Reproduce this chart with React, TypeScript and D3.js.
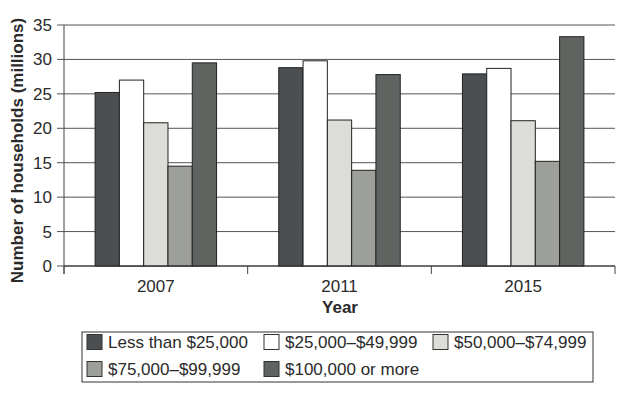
import React from "react";
import * as d3 from "d3";

const years = ["2007", "2011", "2015"];
const seriesNames = [
  "Less than $25,000",
  "$25,000–$49,999",
  "$50,000–$74,999",
  "$75,000–$99,999",
  "$100,000 or more",
];
const less25k = [25.2, 28.8, 27.9];
const k25to50 = [27.0, 29.8, 28.7];
const k50to75 = [20.8, 21.2, 21.1];
const k75to100 = [14.5, 13.9, 15.2];
const over100k = [29.5, 27.8, 33.3];
const yTicks = [0, 5, 10, 15, 20, 25, 30, 35];

const seriesValues = [less25k, k25to50, k50to75, k75to100, over100k];
const colors = ["#4b4f51", "#ffffff", "#dcdcd8", "#9d9f9b", "#5f6461"];

export default function App() {
  const W = 626, H = 398;
  const left = 64, right = 615, top = 25, bottom = 266;
  const x0 = d3.scaleBand<string>().domain(years).range([left, right]).paddingInner(0).paddingOuter(0);
  const x1 = d3.scaleBand<number>().domain(d3.range(5)).range([0, x0.bandwidth()]).paddingOuter(1.28);
  const y = d3.scaleLinear().domain([0, 35]).range([bottom, top]);
  const font = "'Liberation Sans', Arial, sans-serif";
  const textColor = "#2a2a2a";

  const legendItems = [
    { i: 0, x: 87, y: 342 },
    { i: 1, x: 264, y: 342 },
    { i: 2, x: 433, y: 342 },
    { i: 3, x: 87, y: 369 },
    { i: 4, x: 264, y: 369 },
  ];

  return (
    <svg width={W} height={H} style={{ position: "absolute", left: 0, top: 0, background: "#fff" }} fontFamily={font}>
      {yTicks.map((t) => (
        <g key={t}>
          <line x1={left - 7} x2={right} y1={y(t)} y2={y(t)} stroke="#555" strokeWidth={1} />
          <text x={left - 12} y={y(t)} dy="0.35em" textAnchor="end" fontSize={17} fill={textColor}>{t}</text>
        </g>
      ))}
      <line x1={left} x2={left} y1={top} y2={bottom + 8} stroke="#444" strokeWidth={1} />
      {years.map((yr, gi) => (
        <g key={yr} transform={`translate(${x0(yr)},0)`}>
          {seriesValues.map((vals, si) => (
            <rect key={si} x={x1(si)} y={y(vals[gi])} width={x1.bandwidth()} height={bottom - y(vals[gi])}
              fill={colors[si]} stroke="#222" strokeWidth={1} />
          ))}
        </g>
      ))}
      <line x1={left} x2={right} y1={bottom} y2={bottom} stroke="#333" strokeWidth={1.2} />
      {[...years.map((yr) => x0(yr) as number), right].map((xv, i) => (
        <line key={i} x1={xv} x2={xv} y1={bottom} y2={bottom + 8} stroke="#444" strokeWidth={1} />
      ))}
      {years.map((yr) => (
        <text key={yr} x={(x0(yr) as number) + x0.bandwidth() / 2} y={286} dy="0.35em" textAnchor="middle" fontSize={17} fill={textColor}>{yr}</text>
      ))}
      <text x={340} y={307} dy="0.35em" textAnchor="middle" fontSize={17} fontWeight="bold" fill={textColor}>Year</text>
      <text transform={`translate(17,${(top + bottom) / 2 + 5}) rotate(-90)`} textAnchor="middle" dy="0.35em" fontSize={17} fontWeight="bold" fill={textColor}>Number of households (millions)</text>
      <rect x={82} y={332} width={511} height={50} fill="#fff" stroke="#333" strokeWidth={1} />
      {legendItems.map(({ i, x, y: ly }) => (
        <g key={i}>
          <rect x={x} y={ly - 7.5} width={15} height={15} fill={colors[i]} stroke="#333" strokeWidth={1} />
          <text x={x + 21} y={ly} dy="0.35em" fontSize={17} fill={textColor}>{seriesNames[i]}</text>
        </g>
      ))}
    </svg>
  );
}
